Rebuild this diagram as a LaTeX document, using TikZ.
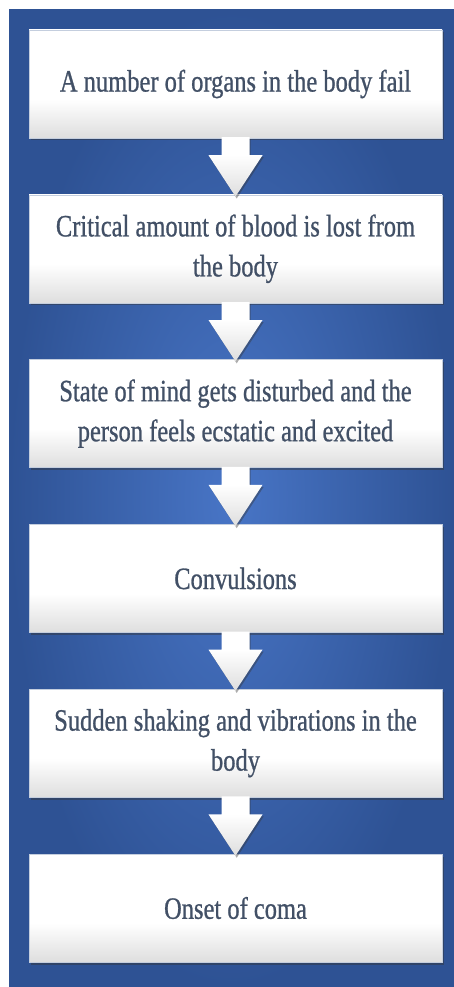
\documentclass[tikz,border=0pt]{standalone}
\usepackage{fontspec}
\setmainfont{Liberation Serif}[FakeStretch=0.79,FakeBold=0.8]
\usetikzlibrary{shadows,calc}
\definecolor{bgout}{RGB}{46,82,148}
\definecolor{bgin}{RGB}{72,117,198}
\definecolor{txt}{RGB}{66,80,102}
\definecolor{boxgrey}{RGB}{222,222,222}
\definecolor{boxedge}{RGB}{196,206,222}
\pgfdeclareverticalshading{boxshade}{100bp}{color(0bp)=(boxgrey); color(25bp)=(boxgrey); color(43bp)=(white); color(100bp)=(white)}
\pgfdeclareverticalshading{arrshade}{100bp}{color(0bp)=(boxgrey); color(25bp)=(boxgrey); color(60bp)=(white); color(100bp)=(white)}
\tikzset{
  stepbox/.style={rectangle, minimum width=413pt, minimum height=108pt, inner sep=0pt,
    shading=boxshade, draw=boxedge, line width=0.5pt, text=txt, align=center,
    font=\fontsize{31}{40}\selectfont,
    drop shadow={shadow xshift=1.5pt, shadow yshift=-2.5pt, opacity=0.45, fill=black!80}},
  blockarrow/.style={shading=arrshade, draw=none,
    drop shadow={shadow xshift=1.2pt, shadow yshift=-2pt, opacity=0.4, fill=black!80}}
}
\begin{document}
\begin{tikzpicture}[x=1pt,y=-1pt]
\useasboundingbox (0,0) rectangle (454,987);
\shade[inner color=bgin, outer color=bgout] (9,10) rectangle (454,987);
\node[stepbox] (b1) at (235.5,84) {A number of organs in the body fail};
\node[stepbox] (b2) at (235.5,248.8) {Critical amount of blood is lost from\\the body};
\node[stepbox] (b3) at (235.5,413.6) {State of mind gets disturbed and the\\person feels ecstatic and excited};
\node[stepbox] (b4) at (235.5,578.4) {Convulsions};
\node[stepbox] (b5) at (235.5,743.2) {Sudden shaking and vibrations in the\\body};
\node[stepbox] (b6) at (235.5,908) {Onset of coma};
\foreach \a/\b in {b1/b2,b2/b3,b3/b4,b4/b5,b5/b6}{
  \path[blockarrow]
    ($(\a.south)+(-14,-1)$) -- ($(\a.south)+(14,-1)$) -- ($(\a.south)+(14,17)$)
    -- ($(\a.south)+(27,17)$) -- ($(\b.north)+(0,2)$) -- ($(\a.south)+(-27,17)$)
    -- ($(\a.south)+(-14,17)$) -- cycle;
}
\end{tikzpicture}
\end{document}
